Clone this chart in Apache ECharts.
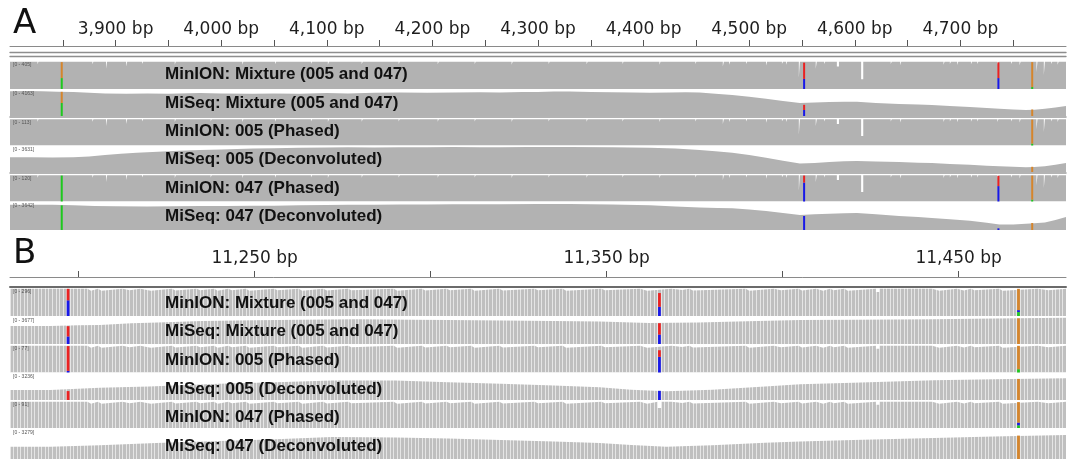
<!DOCTYPE html>
<html><head><meta charset="utf-8">
<script src="https://cdn.jsdelivr.net/npm/echarts@6/dist/echarts.min.js"></script>
<style>html,body{margin:0;padding:0;background:#fff}#c{width:1070px;height:459px}</style>
</head><body><div id="c"></div>
<script>
// ================= DATA =================
const trackNames = ['MinION: Mixture (005 and 047)','MiSeq: Mixture (005 and 047)','MinION: 005 (Phased)','MiSeq: 005 (Deconvoluted)','MinION: 047 (Phased)','MiSeq: 047 (Deconvoluted)'];
const rangesA = ['[0 - 405]','[0 - 4163]','[0 - 113]','[0 - 3631]','[0 - 120]','[0 - 3642]'];
const rangesB = ['[0 - 296]','[0 - 3677]','[0 - 77]','[0 - 3236]','[0 - 91]','[0 - 3279]'];

// ruler ticks / labels (bp)
const ticksA  = [3850,3900,3950,4000,4050,4100,4150,4200,4250,4300,4350,4400,4450,4500,4550,4600,4650,4700,4750];
const labelsA = [3900,4000,4100,4200,4300,4400,4500,4600,4700];
const ticksB  = [11200,11250,11300,11350,11400,11450];
const labelsB = [11250,11350,11450];

// MinION coverage (fraction of track height): full level + notches [pos, width(bp), level]
const minionFullA = 0.97;
const minionNotchesA = [[3812,1,.9],[3826,1,.88],[3838,1,.91],[3864,1,.9],[3878,1,.88],[3891,1,.72],[3902,1,.9],[3910,1,.8],[3925,1,.89],[3941,1,.91],[3956,1,.87],[3972,1,.9],[3990,1,.89],[4003,1,.91],[4020,1,.87],[4037,1,.9],[4051,1,.88],[4068,1,.91],[4085,1,.89],[4101,1,.87],[4117,1,.9],[4133,1,.88],[4150,1,.91],[4168,1,.89],[4186,1,.9],[4205,1,.88],[4222,1,.91],[4240,1,.89],[4258,1,.9],[4275,1,.87],[4292,1,.91],[4310,1,.89],[4328,1,.9],[4346,1,.88],[4364,1,.91],[4380,1,.89],[4398,1,.9],[4415,1,.87],[4432,1,.91],[4449,1,.89],[4462,1,.9],[4475,1,.8],[4481,1,.87],[4497,1,.89],[4509,1,.9],[4516,1,.84],[4525,1,.9],[4531,1,.89],[4535,1,.87],[4539,1,.9],[4547,1,.4],[4563,1,.72],[4571,1,.89],[4583,2,.8],[4597,1,.9],[4606,2,.35],[4620,1,.9],[4634,1,.89],[4643,1,.85],[4655,1,.91],[4667,1,.9],[4684,1,.87],[4690,1,.89],[4697,1,.86],[4703,1,.9],[4710,1,.88],[4716,1,.89],[4726,1,.9],[4735,1,.87],[4748,1,.89],[4756,1,.85],[4772,1,.6],[4779,1,.5],[4786,1,.89],[4792,1,.87]];
const minionFullB = 0.97;
const minionNotchesB = [[11203,1,.9],[11206,1,.9],[11213,2,.92],[11218,3,.9],[11227,1,.91],[11234,1,.92],[11239,1,.9],[11243,1,.92],[11248,1,.9],[11256,1,.92],[11263,1,.9],[11270,1,.91],[11277,1,.92],[11290,1,.9],[11298,1,.91],[11305,1,.92],[11312,1,.9],[11320,1,.91],[11330,1,.92],[11338,1,.9],[11349,1,.92],[11360,2,.9],[11369,3,.93],[11374,1,.91],[11390,1,.9],[11398,2,.92],[11405,1,.91],[11410,2,.9],[11414,1,.92],[11418,1,.9],[11427,1,.86],[11443,2,.9],[11450,2,.91],[11454,1,.92],[11462,1,.9],[11473,3,.92]];
const minionNotchesB047 = [[11365,1,.74]];

// MiSeq coverage [bp, fraction of track height]
const miseqMixA = [[3800,.95],[3815,.96],[3830,.95],[3845,.93],[3860,.92],[3875,.89],[3890,.87],[3910,.86],[3930,.87],[3950,.86],[3980,.88],[4000,.87],[4030,.86],[4050,.87],[4074,.86],[4100,.88],[4120,.87],[4145,.89],[4169,.9],[4195,.89],[4220,.9],[4245,.91],[4264,.9],[4285,.92],[4300,.92],[4315,.94],[4330,.94],[4350,.92],[4370,.91],[4390,.9],[4406,.89],[4425,.9],[4440,.91],[4453,.9],[4468,.86],[4484,.81],[4500,.74],[4516,.66],[4532,.58],[4548,.5],[4562,.52],[4576,.54],[4590,.55],[4602,.55],[4620,.5],[4642,.46],[4660,.44],[4673,.42],[4690,.38],[4709,.35],[4725,.31],[4737,.28],[4750,.25],[4762,.23],[4770,.24],[4780,.28],[4790,.33],[4800,.38]];
const miseq005A = [[3800,.57],[3820,.57],[3840,.56],[3860,.57],[3875,.6],[3890,.65],[3905,.7],[3920,.74],[3940,.78],[3960,.82],[3980,.85],[4000,.87],[4030,.9],[4050,.91],[4074,.93],[4100,.94],[4120,.95],[4145,.94],[4169,.95],[4195,.95],[4220,.96],[4245,.95],[4264,.95],[4290,.96],[4330,.96],[4370,.95],[4406,.93],[4430,.9],[4453,.85],[4468,.8],[4484,.74],[4500,.65],[4516,.55],[4532,.43],[4548,.33],[4562,.35],[4576,.38],[4590,.41],[4602,.42],[4620,.4],[4642,.38],[4660,.36],[4673,.35],[4690,.31],[4709,.28],[4725,.24],[4737,.22],[4750,.2],[4762,.18],[4770,.19],[4780,.22],[4790,.28],[4800,.35]];
const miseq047A = [[3800,.9],[3820,.9],[3840,.9],[3860,.88],[3880,.86],[3900,.85],[3930,.84],[3955,.85],[3980,.86],[4005,.86],[4030,.87],[4050,.87],[4074,.88],[4100,.89],[4120,.9],[4145,.9],[4169,.91],[4195,.91],[4220,.92],[4245,.92],[4264,.92],[4300,.93],[4330,.93],[4370,.91],[4406,.88],[4430,.84],[4453,.8],[4470,.79],[4484,.78],[4500,.73],[4516,.68],[4532,.61],[4548,.54],[4562,.56],[4576,.58],[4590,.6],[4602,.61],[4620,.56],[4642,.5],[4660,.46],[4673,.43],[4690,.38],[4709,.33],[4725,.26],[4737,.2],[4750,.2],[4762,.22],[4770,.24],[4780,.27],[4790,.36],[4800,.46]];
const miseqMixB = [[11180.5,.67],[11192,.67],[11200,.69],[11206,.7],[11215,.77],[11225,.81],[11235,.85],[11250,.88],[11263,.9],[11279,.92],[11295,.9],[11305,.89],[11320,.87],[11335,.85],[11348,.83],[11362,.78],[11376,.8],[11390,.84],[11405,.89],[11420,.9],[11443,.92],[11460,.94],[11480.5,.97]];
const miseq005B = [[11180.5,.37],[11192,.37],[11206,.45],[11220,.5],[11240,.6],[11256,.66],[11272,.72],[11290,.72],[11305,.66],[11320,.6],[11335,.54],[11348,.47],[11357,.38],[11367,.32],[11380,.38],[11395,.5],[11405,.58],[11420,.64],[11443,.73],[11460,.77],[11480.5,.81]];
const miseq047B = [[11180.5,.41],[11192,.41],[11206,.46],[11222,.53],[11240,.6],[11256,.66],[11272,.73],[11290,.72],[11305,.68],[11320,.63],[11335,.58],[11348,.53],[11357,.47],[11367,.41],[11380,.46],[11395,.54],[11405,.58],[11420,.63],[11443,.7],[11460,.75],[11480.5,.8]];

// variant sites and allele heights per track, per site: [A, C, G, T] (stacked bottom to top)
const sitesA = [3849, 4552, 4736, 4768];
const allelesA = [
  [[.39,0,.57,0],[0,.36,0,.58],[0,.39,0,.56],[.07,0,.89,0]],
  [[.5,0,.43,0],[0,.23,0,.2],[0,0,0,0],[0,0,.25,0]],
  [[0,0,0,0],[0,0,0,0],[0,0,0,0],[.07,0,.89,0]],
  [[0,0,0,0],[0,0,0,0],[0,0,0,0],[0,0,.2,0]],
  [[.96,0,0,0],[0,.7,0,.26],[0,.57,0,.38],[.07,0,.89,0]],
  [[.88,0,0,0],[0,.5,0,0],[0,.06,0,0],[0,0,.25,0]]
];
const sitesB = [11197, 11365, 11467];
const allelesB = [
  [[0,.56,0,.41],[0,.33,0,.49],[.14,.07,.76,0]],
  [[0,.28,0,.38],[0,.35,0,.42],[0,0,.95,0]],
  [[0,.06,0,.9],[0,.57,0,.24],[.12,0,.85,0]],
  [[0,0,0,.33],[0,.34,0,0],[0,0,.78,0]],
  [[0,0,0,0],[0,0,0,0],[.1,.1,.76,0]],
  [[0,0,0,0],[0,0,0,0],[0,0,.78,0]]
];

// ================= BUILD =================
const baseColors = ['#1ec81e','#1818e8','#d5852c','#ea2222']; // A C G T
const fmt = v => String(v).replace(/\B(?=(\d{3})+(?!\d))/g, ',') + ' bp';
function steps(full, notches, min, max, shift){
  const list = notches.slice().sort((a,b)=>a[0]-b[0]);
  const pts = [[min, full]];
  list.forEach(([p,w,f]) => { pts.push([p-shift, f]); pts.push([p-shift+w, full]); });
  pts.push([max, full]);
  return pts;
}
function segments(sites, alleles){
  const out = [];
  sites.forEach((s,i)=>{
    let cum = 0;
    alleles[i].forEach((h,b)=>{ if(h>0){ out.push([s, cum, cum+h, b]); cum += h; } });
  });
  return out;
}
const grids=[], xAxes=[], yAxes=[], series=[], graphics=[];
function addGrid(top,height){ grids.push({left:10,right:4,top,height}); return grids.length-1; }
function hiddenY(g){ yAxes.push({gridIndex:g,type:'value',min:0,max:1,show:false}); return yAxes.length-1; }
function plainLine(g,pos,color,width){
  xAxes.push({gridIndex:g,type:'value',min:0,max:1,position:pos,
    axisLine:{show:true,onZero:false,lineStyle:{color,width}},axisTick:{show:false},axisLabel:{show:false},splitLine:{show:false}});
}
function ruler(top,min,max,ticks,labels,margin){
  const g = addGrid(top,4);
  xAxes.push({gridIndex:g,type:'value',min,max,position:'top',
    axisLine:{show:true,onZero:false,lineStyle:{color:'#8a8a8a',width:1}},
    axisTick:{show:true,length:6,customValues:ticks,lineStyle:{color:'#555',width:1}},
    axisLabel:{show:true,customValues:labels,formatter:fmt,margin,fontFamily:'DejaVu Sans',fontSize:17,color:'#1e1e1e'},
    splitLine:{show:false}});
  hiddenY(g);
}
const panelA = {min:3800,max:4800,gray:'#b2b2b2',barW:2,stripes:false};
const panelB = {min:11180.5,max:11480.5,gray:'#bfbfbf',barW:2.8,stripes:true};
function track(top,height,panel,isMinion,data,sites,alleles,sep){
  const g = addGrid(top,height);
  const xi = xAxes.length;
  xAxes.push({gridIndex:g,type:'value',min:panel.min,max:panel.max,show:!!sep,position:'bottom',offset:1,
    axisLine:{show:!!sep,onZero:false,lineStyle:{color:'#9a9a9a',width:1.5}},axisTick:{show:false},axisLabel:{show:false},splitLine:{show:false}});
  if(panel.stripes){
    xAxes.push({gridIndex:g,type:'value',min:panel.min-0.5,max:panel.max-0.5,interval:1,position:'top',z:5,
      axisLine:{show:false,onZero:false},axisTick:{show:false},axisLabel:{show:false},
      splitLine:{show:true,lineStyle:{color:'rgba(255,255,255,0.6)',width:1}}});
  }
  const yi = hiddenY(g);
  series.push({type:'line',xAxisIndex:xi,yAxisIndex:yi,data,step:isMinion?'end':false,symbol:'none',showSymbol:false,
    lineStyle:{width:0},areaStyle:{color:panel.gray,opacity:1},silent:true,z:2});
  const bw = panel.barW;
  series.push({type:'custom',xAxisIndex:xi,yAxisIndex:yi,data:segments(sites,alleles),encode:{x:0,y:[1,2]},silent:true,z:6,
    renderItem:(params,api)=>{
      const x = api.value(0), p0 = api.coord([x, api.value(1)]), p1 = api.coord([x, api.value(2)]);
      return {type:'rect',shape:{x:p0[0]-bw/2,y:p1[1],width:bw,height:p0[1]-p1[1]},style:{fill:baseColors[api.value(3)]}};
    }});
}

// Panel A
ruler(46,3800,4800,ticksA,labelsA,8);
{ const g = addGrid(52.5,4); plainLine(g,'top','#8d8d8d',1.4); plainLine(g,'bottom','#8d8d8d',1.4); hiddenY(g); }
const minA = steps(minionFullA,minionNotchesA,3800,4800,0);
const dataA = [minA, miseqMixA, minA, miseq005A, minA, miseq047A];
const topsA = [61,90,118.5,146,174.5,202], hA = [28,26,27,26,27,28];
const labYA = [74,103,131,159.5,188,216];
dataA.forEach((d,i)=>track(topsA[i],hA[i],panelA,i%2===0,d,sitesA,allelesA[i],i===1||i===3));

// Panel B
ruler(277,11180.5,11480.5,ticksB,labelsB,10);
{ const g = addGrid(286.5,2); plainLine(g,'top','#6b6b6b',2); hiddenY(g); }
const minB = steps(minionFullB,minionNotchesB,11180.5,11480.5,0.5);
const minB047 = steps(minionFullB,minionNotchesB.concat(minionNotchesB047),11180.5,11480.5,0.5);
const dataB = [minB, miseqMixB, minB, miseq005B, minB047, miseq047B];
const topsB = [288,317,345,373,401,429], hB = [28,27,27.5,27,27,30];
const labYB = [303,331.5,360,389,417,446];
dataB.forEach((d,i)=>track(topsB[i],hB[i],panelB,i%2===0,d,sitesB,allelesB[i],false));

// Texts
graphics.push({type:'text',x:13,y:24,z:20,style:{text:'A',fontFamily:'DejaVu Sans',fontSize:34,fill:'#111',verticalAlign:'middle'}});
graphics.push({type:'text',x:13,y:254,z:20,style:{text:'B',fontFamily:'DejaVu Sans',fontSize:34,fill:'#111',verticalAlign:'middle'}});
trackNames.forEach((t,i)=>{
  graphics.push({type:'text',x:165,y:labYA[i],z:20,style:{text:t,fontFamily:'Liberation Sans',fontWeight:'bold',fontSize:17,fill:'#111',verticalAlign:'middle'}});
  graphics.push({type:'text',x:165,y:labYB[i],z:20,style:{text:t,fontFamily:'Liberation Sans',fontWeight:'bold',fontSize:17,fill:'#111',verticalAlign:'middle'}});
  graphics.push({type:'text',x:13,y:topsA[i]+4,z:20,style:{text:rangesA[i],fontFamily:'Liberation Sans',fontSize:5,fill:'#555',verticalAlign:'middle'}});
  graphics.push({type:'text',x:13,y:topsB[i]+4,z:20,style:{text:rangesB[i],fontFamily:'Liberation Sans',fontSize:5,fill:'#555',verticalAlign:'middle'}});
});

const chart = echarts.init(document.getElementById('c'), null, {renderer:'canvas'});
chart.setOption({animation:false,backgroundColor:'#fff',grid:grids,xAxis:xAxes,yAxis:yAxes,series,graphic:graphics,tooltip:{show:false}});
</script>
</body></html>
